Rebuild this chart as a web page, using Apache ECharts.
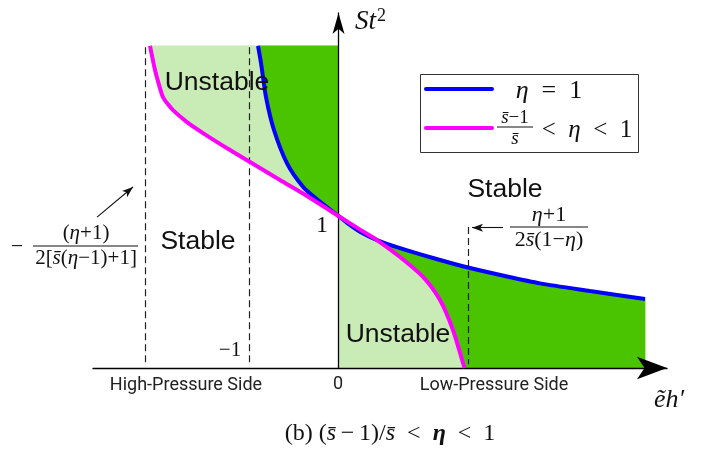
<!DOCTYPE html>
<html>
<head>
<meta charset="utf-8">
<script src="https://cdn.jsdelivr.net/npm/echarts@6/dist/echarts.min.js"></script>
<style>
  html, body { margin: 0; padding: 0; background: #fff; }
  #chart { width: 719px; height: 456px; }
</style>
</head>
<body>
<div id="chart"></div>
<script>
// Stability boundaries in the (ẽh′, St²) plane, points as [ẽh′, St²]
const etaOneCurve = [
  [-0.899, 2.12], [-0.866, 2.007], [-0.810, 1.783], [-0.721, 1.566],
  [-0.575, 1.347], [-0.397, 1.193], [-0.244, 1.112], [0, 1.0],
  [0.095, 0.955], [0.250, 0.893], [0.430, 0.842], [0.687, 0.789],
  [1.056, 0.724], [1.447, 0.661], [1.883, 0.602], [2.251, 0.557],
  [2.810, 0.507], [3.425, 0.454]
];
const etaRangeCurve = [
  [-2.106, 2.12], [-2.050, 1.961], [-1.994, 1.840], [-1.961, 1.783],
  [-1.905, 1.735], [-1.849, 1.697], [-1.693, 1.618], [-1.514, 1.546],
  [-1.212, 1.434], [-0.989, 1.355], [-0.654, 1.237], [-0.352, 1.132],
  [0, 1.0], [0.250, 0.907], [0.430, 0.842], [0.687, 0.730],
  [0.944, 0.599], [1.134, 0.447], [1.279, 0.250], [1.391, 0.033], [1.408, 0]
];
const topLevel = 2.12;          // upper edge of the shaded regions
const rightEdge = 3.425;        // right edge of the low-pressure stable band
const touchX = 0.430;           // where the two boundaries meet again
const guideX = [-2.162, -1, 1.447];
const guideTop = [2.11, 2.11, 0.928];

const DARK = '#4bc400';
const LIGHT = '#c9ebb6';
const BLUE = '#0000ff';
const MAGENTA = '#ff00ff';

const left = p => p[0] <= 0;
const regions = [
  { color: LIGHT, pts: etaRangeCurve.filter(left).concat(etaOneCurve.filter(left).reverse()) },
  { color: DARK, pts: etaOneCurve.filter(left).concat([[0, topLevel]]) },
  { color: LIGHT, pts: [[0, 0]]
      .concat(etaOneCurve.filter(p => p[0] >= 0 && p[0] <= touchX))
      .concat(etaRangeCurve.filter(p => p[0] > touchX)) },
  { color: DARK, pts: etaOneCurve.filter(p => p[0] >= touchX)
      .concat([[rightEdge, 0]])
      .concat(etaRangeCurve.filter(p => p[0] >= touchX).reverse()) }
];

const SERIF = 'Liberation Serif';
const SANS = 'Liberation Sans';
const richMath = size => ({
  i: { fontFamily: SERIF, fontStyle: 'italic', fontSize: size, fill: '#111' },
  r: { fontFamily: SERIF, fontSize: size, fill: '#111' },
  bi: { fontFamily: SERIF, fontStyle: 'italic', fontWeight: 'bold', fontSize: size, fill: '#111' },
  sup: { fontFamily: SERIF, fontSize: Math.round(size * 0.68), fill: '#111', verticalAlign: 'top', padding: [0, 0, 12, 1] }
});

function label(text, x, y, opts) {
  const o = opts || {};
  return {
    type: 'text', x: x, y: y, silent: true, z: 20,
    style: {
      text: text,
      fontFamily: o.family || SERIF,
      fontSize: o.size || 20,
      fontStyle: o.style || 'normal',
      fill: o.fill || '#111',
      textAlign: o.align || 'center',
      textVerticalAlign: 'middle',
      rich: o.rich
    }
  };
}
function bar(x1, x2, y) {
  return { type: 'line', silent: true, z: 20,
    shape: { x1: x1, y1: y, x2: x2, y2: y },
    style: { stroke: '#111', lineWidth: 1.2 } };
}

const guides = guideX.map((x, k) => [
  { coord: [x, guideTop[k]] }, { coord: [x, 0.025] }
]);

const chart = echarts.init(document.getElementById('chart'), null, { renderer: 'canvas' });
chart.setOption({
  animation: false,
  backgroundColor: '#fff',
  grid: { left: 93, right: 52, top: 13, bottom: 88 },
  xAxis: {
    type: 'value', min: -2.743, max: 3.670, z: 3,
    axisLine: { show: true, onZero: true, symbol: ['none', 'arrow'], symbolSize: [17, 30],
      lineStyle: { color: '#000', width: 1.3 } },
    axisTick: { show: false }, axisLabel: { show: false }, splitLine: { show: false }
  },
  yAxis: {
    type: 'value', min: 0, max: 2.336, z: 3,
    axisLine: { show: true, onZero: true, symbol: ['none', 'arrow'], symbolSize: [9, 21],
      lineStyle: { color: '#000', width: 1.3 } },
    axisTick: { show: false }, axisLabel: { show: false }, splitLine: { show: false }
  },
  series: [
    {
      type: 'custom', name: 'regions', z: 1, silent: true, clip: false,
      data: regions.map(() => [0, 0]),
      renderItem: function (params, api) {
        const r = regions[params.dataIndex];
        return {
          type: 'polygon',
          shape: { points: r.pts.map(p => api.coord(p)) },
          style: { fill: r.color, stroke: r.color, lineWidth: 0.6 }
        };
      }
    },
    {
      type: 'line', name: 'η = 1', z: 5, data: etaOneCurve, showSymbol: false, symbol: 'none',
      smooth: 0.25, lineStyle: { color: BLUE, width: 4 }, silent: true,
      markLine: {
        silent: true, symbol: ['none', 'none'], label: { show: false },
        lineStyle: { color: '#222', width: 1.2, type: [7, 4] },
        data: guides
      }
    },
    {
      type: 'line', name: 'range', z: 6, data: etaRangeCurve, showSymbol: false, symbol: 'none',
      smooth: 0.25, lineStyle: { color: MAGENTA, width: 4 }, silent: true,
      markLine: {
        silent: true, symbol: ['none', 'arrow'], symbolSize: [6, 11], label: { show: false },
        lineStyle: { color: '#111', width: 1.1, type: 'solid' },
        data: [
          [{ coord: [-2.698, 0.993] }, { coord: [-2.296, 1.191] }],
          [{ coord: [1.838, 0.923] }, { coord: [1.492, 0.923] }]
        ]
      }
    }
  ],
  graphic: [
    // axis titles
    label('{i|St}{sup|2}', 355, 22, { rich: richMath(27), align: 'left' }),
    label('{i|ẽh′}', 669, 400, { rich: richMath(26) }),
    // axis marks
    label('1', 322, 226, { size: 24 }),
    label('−1', 230, 350, { size: 21 }),
    label('0', 338, 384, { family: 'Roboto', size: 18, fill: '#222' }),
    label('High-Pressure Side', 186, 385, { family: 'Roboto', size: 18, fill: '#222' }),
    label('Low-Pressure Side', 494, 385, { family: 'Roboto', size: 18, fill: '#222' }),
    // region names
    label('Unstable', 217, 83, { family: SANS, size: 26.5 }),
    label('Unstable', 398, 335, { family: SANS, size: 26.5 }),
    label('Stable', 198, 242, { family: SANS, size: 26.5 }),
    label('Stable', 505, 190, { family: SANS, size: 26.5 }),
    // left bound fraction
    label('−', 17, 247, { size: 22 }),
    label('{r|(}{i|η}{r|+1)}', 86, 233, { rich: richMath(21) }),
    bar(33, 138, 246),
    label('{r|2[}{i|s̄}{r|(}{i|η}{r|−1)+1]}', 86, 258, { rich: richMath(21) }),
    // right bound fraction
    label('{i|η}{r|+1}', 549, 215, { rich: richMath(22) }),
    bar(510, 588, 227),
    label('{r|2}{i|s̄}{r|(1−}{i|η}{r|)}', 549, 240, { rich: richMath(22) }),
    // legend
    { type: 'rect', silent: true, z: 20,
      shape: { x: 420.5, y: 74.5, width: 218, height: 78 },
      style: { fill: '#fff', stroke: '#333', lineWidth: 1 } },
    { type: 'line', silent: true, z: 21, shape: { x1: 426, y1: 89, x2: 492, y2: 89 },
      style: { stroke: BLUE, lineWidth: 4, lineCap: 'round' } },
    { type: 'line', silent: true, z: 21, shape: { x1: 426, y1: 128, x2: 492, y2: 128 },
      style: { stroke: MAGENTA, lineWidth: 4, lineCap: 'round' } },
    label('{i|η}{r|\u2002=\u20021}', 549, 91, { rich: richMath(26) }),
    label('{i|s̄}{r|−1}', 515, 118, { rich: richMath(19) }),
    bar(497, 533, 127),
    label('{i|s̄}', 515, 139, { rich: richMath(19) }),
    label('{r|<\u2002}{i|η}{r|\u2002<\u20021}', 587, 130, { rich: richMath(25) }),
    // caption
    label('{r|(b) (}{i|s̄}{r|\u2009−\u20091)/}{i|s̄}{r|\u2002<\u2002}{bi|η}{r|\u2002<\u20021}', 390, 434, { rich: richMath(24) })
  ]
});
</script>
</body>
</html>
